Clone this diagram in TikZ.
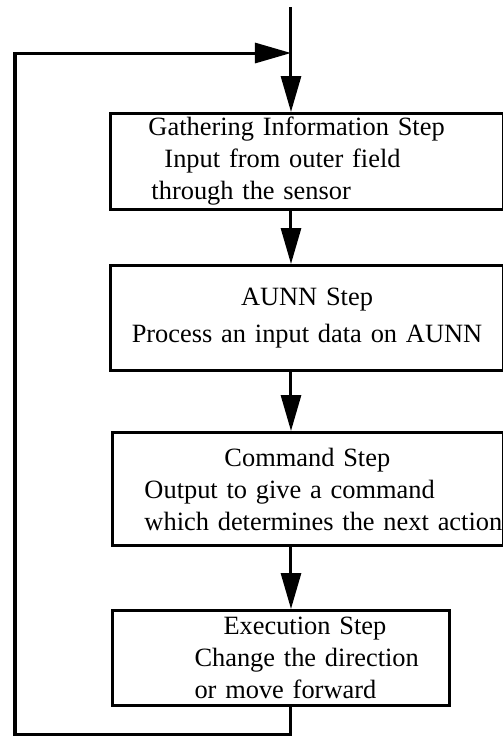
\documentclass[tikz,border=0pt]{standalone}
\usepackage{fontspec}
\setmainfont[WordSpace=0.7]{Liberation Serif}
\usetikzlibrary{arrows.meta}

\begin{document}
\begin{tikzpicture}[
    x=0.5pt, y=-0.5pt, % une unité = un pixel de l'image
    line width=1.5pt,
    % Réglages des boîtes et des flèches
    stepbox/.style={draw, rectangle, anchor=north west, inner xsep=0pt, inner ysep=0pt,
        font=\fontsize{13.2}{16}\selectfont},
    flow/.style={-{Triangle[length=18pt, width=10pt]}}
]
\useasboundingbox (0,0) rectangle (503,736);
% Colonne des flèches
\coordinate (top) at (291,7);
\coordinate (corner) at (15,734);
\coordinate (join) at (291,53);
% Les quatre étapes
\node[stepbox, minimum height=48pt, text width=196.5pt, align=left] (gather) at (109,112)
    {\hspace*{19pt}Gathering Information Step\\
     \hspace*{27pt}Input from outer field\\
     \hspace*{20.5pt}through the sensor};
\node[stepbox, minimum height=52.5pt, text width=196.5pt, align=center] (aunn) at (109,264)
    {AUNN Step\\[2.5pt]
     Process an input data on AUNN};
\node[stepbox, minimum height=56.5pt, text width=195.5pt, align=left] (command) at (111,431)
    {\hspace*{56pt}Command Step\\
     \hspace*{16pt}Output to give a command\\
     \hspace*{16pt}\mbox{which determines the next action}};
\node[stepbox, minimum height=47.5pt, text width=168.5pt, align=left] (exec) at (111,609)
    {\hspace*{55.5pt}Execution Step\\
     \hspace*{41pt}Change the direction\\
     \hspace*{41pt}or move forward};
% Flèches
\draw[flow] (top) -- (gather.north -| top);
\draw[flow] (gather.south -| top) -- (aunn.north -| top);
\draw[flow] (aunn.south -| top) -- (command.north -| top);
\draw[flow] (command.south -| top) -- (exec.north -| top);
% Retour vers le début
\draw[flow] (exec.south -| top) |- (corner) |- (join);
\end{tikzpicture}
\end{document}
